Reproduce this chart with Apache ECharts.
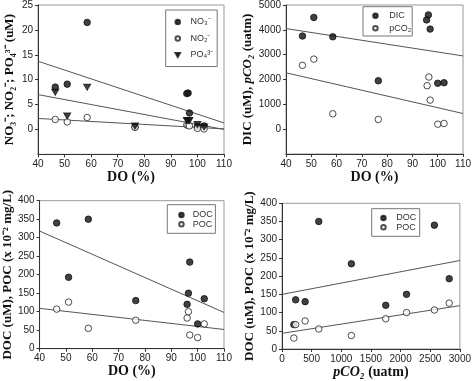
<!DOCTYPE html>
<html><head><meta charset="utf-8">
<script src="https://cdn.jsdelivr.net/npm/echarts@6/dist/echarts.min.js"></script>
<style>html,body{margin:0;padding:0;background:#fff}#c{width:474px;height:381px}</style>
</head><body><div id="c"></div>
<script>
// Panel 1: nutrients vs DO
const do1 = [46.5, 51, 58.5, 76.5, 96, 96.5, 97, 100, 102.5];
const no3 = [8.5, 9.1, 21.5, 0.5, 7.2, 7.3, 3.3, 0.6, 0.7];
const no2 = [2.0, 1.5, 2.4, 0.4, 0.9, 0.8, 0.7, 0.2, 0.1];
const po4 = [7.5, 2.7, 8.5, 0.7, 1.8, 1.8, 1.8, 1.0, 0.5];
const fitX1 = [40, 110];
const no3Fit = [13.7, 1.3];
const po4Fit = [7.0, 0.0];
const no2Fit = [2.2, 0.1];
// Panel 2: DIC, pCO2 vs DO
const do2 = [46.5, 51, 58.5, 76.5, 95.6, 96.3, 97, 100, 102.5];
const dic = [3750, 4500, 3720, 1950, 4400, 4600, 4030, 1850, 1870];
const do2b = [46.5, 51, 58.5, 76.5, 95.8, 96.5, 97, 100, 102.5];
const pco2 = [2570, 2820, 620, 390, 1750, 2100, 1170, 200, 230];
const dicFit = [4050, 2950];
const pco2Fit = [2270, 630];
// Panel 3: DOC, POC vs DO
const do3 = [46.5, 51, 58.5, 76.5, 96, 96.5, 97, 100, 102.5];
const doc3 = [340, 193, 350, 130, 120, 150, 234, 67, 135];
const poc3 = [107, 126, 55, 77, 83, 100, 37, 30, 67];
const docFit3 = [318, 98];
const pocFit3 = [109, 52];
// Panel 4: DOC, POC vs pCO2
const pco2x = [200, 230, 390, 620, 1170, 1750, 2100, 2570, 2820];
const doc4 = [67, 135, 130, 350, 234, 120, 150, 340, 193];
const poc4 = [30, 67, 77, 55, 37, 83, 100, 107, 126];
const fitX4 = [0, 3000];
const docFit4 = [150, 243];
const pocFit4 = [43, 119];

const zip = (a, b) => a.map((v, i) => [v, b[i]]);
const SANS = 'Liberation Sans, Arial, sans-serif';
const SERIF = 'Liberation Serif, Times New Roman, serif';
const tri = 'path://M0,0 L10,0 L5,9 Z';

const grids = [
  {left: 38, top: 4.3, width: 186, height: 150},
  {left: 286, top: 4, width: 179, height: 150},
  {left: 38, top: 200.7, width: 186, height: 148},
  {left: 282, top: 203.3, width: 183, height: 145.7}
].map(g => Object.assign({show: true, borderColor: '#999', borderWidth: 1, backgroundColor: '#fff'}, g));

function xA(i, min, max, interval, name, gap) {
  return {gridIndex: i, type: 'value', min, max, interval,
    name, nameLocation: 'middle', nameGap: gap,
    nameTextStyle: {fontFamily: SERIF, fontWeight: 'bold', fontSize: 14, color: '#111',
      rich: {i: {fontFamily: SERIF, fontWeight: 'bold', fontStyle: 'italic', fontSize: 14, color: '#111'}}},
    axisLine: {show: true, onZero: false, lineStyle: {color: '#333'}},
    axisTick: {show: true, length: 3, lineStyle: {color: '#333'}},
    axisLabel: {fontFamily: SANS, fontSize: 10, color: '#222', margin: 5, formatter: v => String(v)},
    splitLine: {show: false}};
}
function yA(i, min, max, interval, name, gap, showMin) {
  return {gridIndex: i, type: 'value', min, max, interval,
    name, nameLocation: 'middle', nameGap: gap,
    nameTextStyle: {fontFamily: SERIF, fontWeight: 'bold', fontSize: 13, color: '#111',
      rich: {i: {fontFamily: SERIF, fontWeight: 'bold', fontStyle: 'italic', fontSize: 13, color: '#111'}}},
    axisLine: {show: true, onZero: false, lineStyle: {color: '#333'}},
    axisTick: {show: true, length: 3, lineStyle: {color: '#333'}},
    axisLabel: {fontFamily: SANS, fontSize: 10, color: '#222', margin: 5, showMinLabel: showMin, formatter: v => String(v)},
    splitLine: {show: false}};
}

const filled = {color: '#111', borderColor: '#111', borderWidth: 1};
const open = {color: '#fff', borderColor: '#222', borderWidth: 1};
function sc(name, i, data, itemStyle, symbol) {
  return {name, type: 'scatter', xAxisIndex: i, yAxisIndex: i, data,
    symbol: symbol || 'circle', symbolSize: symbol ? [7, 6] : 6.5, itemStyle, z: 3};
}
function fit(i, xs, ys) {
  return {type: 'line', xAxisIndex: i, yAxisIndex: i, data: zip(xs, ys), symbol: 'none',
    lineStyle: {color: '#555', width: 1}, silent: true, z: 2};
}
function leg(names, left, top, gap, padding, textPad) {
  return {data: names, orient: 'vertical', left, top, itemWidth: 4.5, itemHeight: 4.5, itemGap: gap,
    borderColor: '#777', borderWidth: 1, padding, backgroundColor: '#fff',
    textStyle: {fontFamily: SANS, fontSize: 9, lineHeight: 9, color: '#333', padding: [0, 0, 0, textPad]}};
}

const chart = echarts.init(document.getElementById('c'), null, {renderer: 'canvas'});
chart.setOption({
  animation: false,
  grid: grids,
  legend: [
    leg(['NO₃⁻', 'NO₂⁻', 'PO₄³⁻'], 165.7, 10, 7.5, [7.5, 4, 7, 8.8], 5.5),
    leg(['DIC', 'pCO₂'], 363, 6.7, 3.6, [4.5, 1, 3.2, 9.2], 6.5),
    leg(['DOC', 'POC'], 167.3, 204.7, 0.3, [5.8, 2.7, 4.5, 10.9], 4),
    leg(['DOC ', 'POC '], 371.7, 208.7, 0.3, [4.8, 1, 4.5, 8.5], 5.5)
  ],
  xAxis: [
    xA(0, 40, 110, 10, 'DO (%)', 13),
    xA(1, 40, 110, 10, 'DO (%)', 13),
    xA(2, 40, 110, 10, 'DO (%)', 16),
    xA(3, 0, 3000, 500, '{i|pCO₂} (uatm)', 15)
  ],
  yAxis: [
    yA(0, -5, 25, 5, 'NO₃⁻; NO₂⁻; PO₄³⁻ (uM)', 22, false),
    yA(1, -1000, 5000, 1000, 'DIC (uM), {i|pCO₂} (uatm)', 32, false),
    yA(2, 0, 400, 50, 'DOC (uM), POC (x 10⁻² mg/L)', 23, true),
    yA(3, 0, 400, 50, 'DOC (uM), POC (x 10⁻² mg/L)', 23, true)
  ],
  series: [
    fit(0, fitX1, no3Fit), fit(0, fitX1, po4Fit), fit(0, fitX1, no2Fit),
    sc('NO₃⁻', 0, zip(do1, no3), filled),
    sc('NO₂⁻', 0, zip(do1, no2), open),
    sc('PO₄³⁻', 0, zip(do1, po4), filled, tri),
    fit(1, fitX1, dicFit), fit(1, fitX1, pco2Fit),
    sc('DIC', 1, zip(do2, dic), filled),
    sc('pCO₂', 1, zip(do2b, pco2), open),
    fit(2, fitX1, docFit3), fit(2, fitX1, pocFit3),
    sc('DOC', 2, zip(do3, doc3), filled),
    sc('POC', 2, zip(do3, poc3), open),
    fit(3, fitX4, docFit4), fit(3, fitX4, pocFit4),
    sc('DOC ', 3, zip(pco2x, doc4), filled),
    sc('POC ', 3, zip(pco2x, poc4), open)
  ]
});
</script></body></html>
